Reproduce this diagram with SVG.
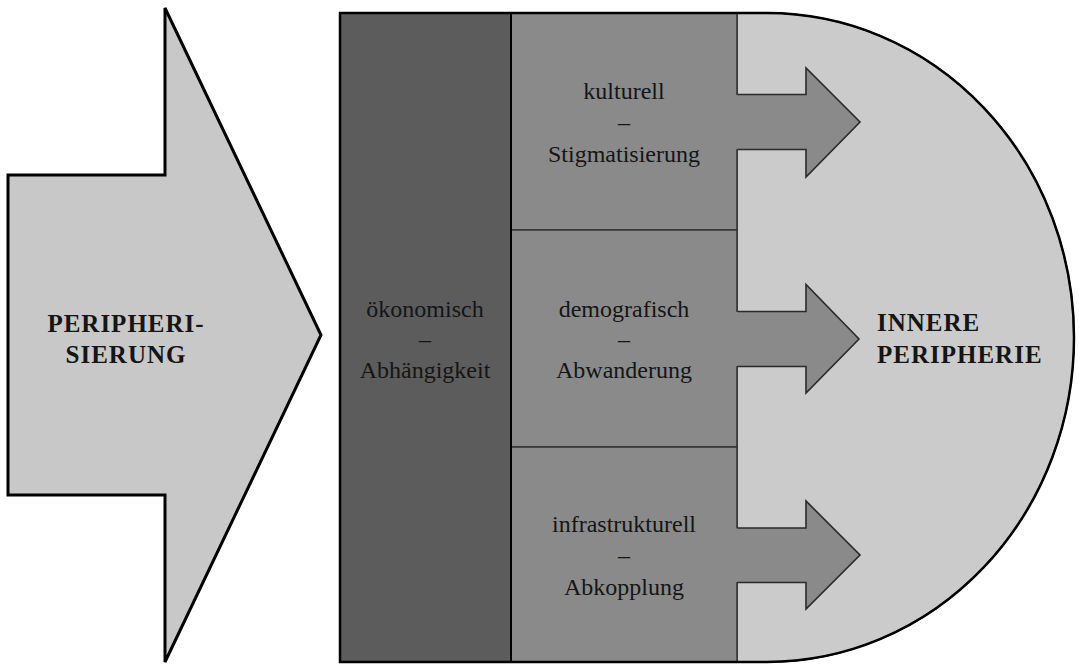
<svg xmlns="http://www.w3.org/2000/svg" width="1079" height="668" viewBox="0 0 1079 668">
<style>
text{font-family:"Liberation Serif","DejaVu Serif",serif}
.lbl{font-size:24px;fill:#151515;text-anchor:middle}
.big{font-size:25px;font-weight:bold;fill:#151515;letter-spacing:1px}
.sec{fill:#8a8a8a;stroke:#333;stroke-width:1.5}
.conn{fill:#8a8a8a;stroke:#2a2a2a;stroke-width:1.6;stroke-linejoin:miter}
</style>
<rect width="1079" height="668" fill="#ffffff"/>
<g id="peripherisierung">
<polygon points="8,175 165,175 165,8 321,335 165,662 165,495 8,495" fill="#c8c8c8" stroke="#000" stroke-width="3" stroke-linejoin="miter"/>
<text class="big" font-family="Liberation Serif, serif" x="126" y="332" text-anchor="middle">PERIPHERI-</text>
<text class="big" font-family="Liberation Serif, serif" x="126" y="363" text-anchor="middle">SIERUNG</text>
</g>
<g id="innere-peripherie">
<path d="M737,13 H767 A307,324.5 0 0 1 767,662 H737 Z" fill="#cbcbcb" stroke="#2a2a2a" stroke-width="1.6"/>
<text class="big" font-family="Liberation Serif, serif" x="877" y="331">INNERE</text>
<text class="big" font-family="Liberation Serif, serif" x="877" y="363">PERIPHERIE</text>
</g>
<g id="oekonomisch">
<rect x="340" y="13" width="171" height="649" fill="#5c5c5c"/>
<text class="lbl" font-family="Liberation Serif, serif" x="425" y="317">ökonomisch</text>
<text class="lbl" font-family="Liberation Serif, serif" x="425" y="347">–</text>
<text class="lbl" font-family="Liberation Serif, serif" x="425" y="378">Abhängigkeit</text>
</g>
<g id="kulturell">
<rect class="sec" x="511" y="13" width="226" height="217"/>
<text class="lbl" font-family="Liberation Serif, serif" x="624" y="99">kulturell</text>
<text class="lbl" font-family="Liberation Serif, serif" x="624" y="130">–</text>
<text class="lbl" font-family="Liberation Serif, serif" x="624" y="162">Stigmatisierung</text>
</g>
<g id="demografisch">
<rect class="sec" x="511" y="230" width="226" height="217"/>
<text class="lbl" font-family="Liberation Serif, serif" x="624" y="317">demografisch</text>
<text class="lbl" font-family="Liberation Serif, serif" x="624" y="347">–</text>
<text class="lbl" font-family="Liberation Serif, serif" x="624" y="378">Abwanderung</text>
</g>
<g id="infrastrukturell">
<rect class="sec" x="511" y="447" width="226" height="215"/>
<text class="lbl" font-family="Liberation Serif, serif" x="624" y="532">infrastrukturell</text>
<text class="lbl" font-family="Liberation Serif, serif" x="624" y="563">–</text>
<text class="lbl" font-family="Liberation Serif, serif" x="624" y="595">Abkopplung</text>
</g>
<g id="connectors">
<path d="M734,95 H806 V149 H734 Z" fill="#8a8a8a"/>
<path d="M734,312 H806 V366 H734 Z" fill="#8a8a8a"/>
<path d="M734,528.5 H806 V582 H734 Z" fill="#8a8a8a"/>
<path class="conn" d="M737.5,94.5 H806 V68 L860,122 L806,177 V149.5 H737.5"/>
<path class="conn" d="M737.5,311.5 H806 V284.5 L859,339 L806,393 V366.5 H737.5"/>
<path class="conn" d="M737.5,528 H806 V501 L860,555 L806,609 V582.5 H737.5"/>
</g>
<g id="frame">
<line x1="511" y1="13" x2="511" y2="662" stroke="#000" stroke-width="2"/>
<path d="M340,13 H767 A307,324.5 0 0 1 767,662 H340 Z" fill="none" stroke="#000" stroke-width="2.5"/>
</g>
</svg>
